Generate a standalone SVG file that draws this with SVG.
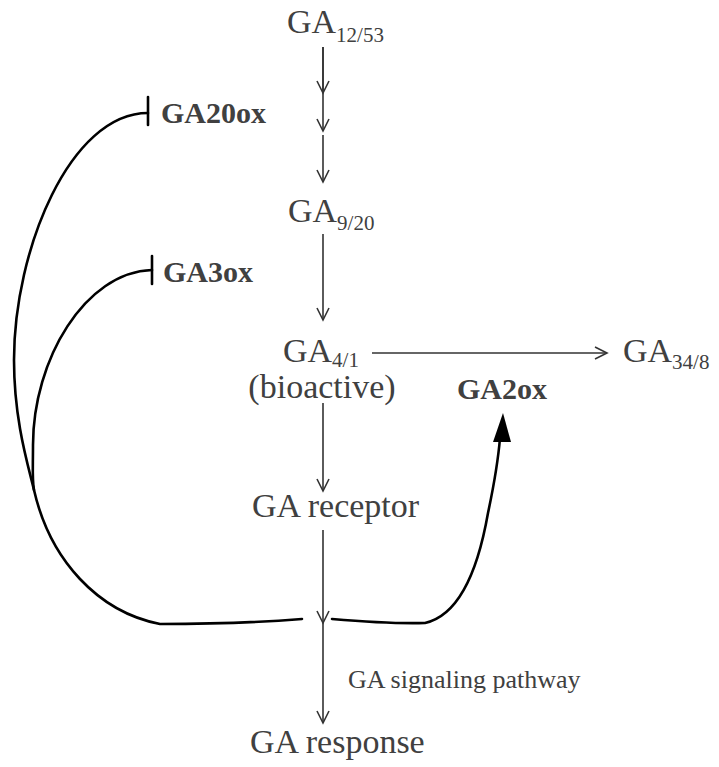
<svg xmlns="http://www.w3.org/2000/svg" width="719" height="767" viewBox="0 0 719 767">
<style>
text{font-family:"Liberation Serif","Times New Roman",serif;fill:#404040}
.m{font-size:34px}
.s{font-size:21px}
.b{font-size:30px;font-weight:bold}
.p{font-size:26px}
.ln{stroke:#333;stroke-width:1.6;fill:none}
.cv{stroke:#000;stroke-width:2.6;fill:none;stroke-linecap:round}
</style>
<defs>
<marker id="v" viewBox="-14 -8 16 16" markerWidth="16" markerHeight="16" refX="0" refY="0" orient="auto" markerUnits="userSpaceOnUse">
<path d="M-12,-6 L0,0 L-12,6" fill="none" stroke="#333" stroke-width="1.6"/>
</marker>
</defs>
<g id="connectors">
<path class="ln" d="M323,47 V131" marker-end="url(#v)"/>
<path class="ln" d="M323,47 V93" marker-end="url(#v)"/>
<path class="ln" d="M323,135 V182" marker-end="url(#v)"/>
<path class="ln" d="M323,234 V320" marker-end="url(#v)"/>
<path class="ln" d="M323,403 V491" marker-end="url(#v)"/>
<path class="ln" d="M323,530 V623" marker-end="url(#v)"/>
<path class="ln" d="M323,623 V723" marker-end="url(#v)"/>
<path class="ln" d="M372,353 H607" marker-end="url(#v)"/>
<path class="cv" d="M148,113 C70,113 14,250 14,360 C14,420 28,465 34,490 C50,560 98,612 160,624 Q240,624 302,619"/>
<path class="cv" d="M152,270 C85,272 33,360 33,445 C33,468 32,480 34,490"/>
<path class="cv" d="M148,97 V125"/>
<path class="cv" d="M152,256 V284"/>
<path class="cv" d="M332,619 Q390,624 425,623 C460,615 478,570 488,513 C495,480 498,462 500,438"/>
<polygon points="503,413 493,442 511,442" fill="#000"/>
</g>
<g id="ga12">
<text class="m" x="287" y="33">GA<tspan class="s" dy="9">12/53</tspan></text>
</g>
<g id="ga9">
<text class="m" x="288" y="222">GA<tspan class="s" dy="8">9/20</tspan></text>
</g>
<g id="ga4">
<text class="m" x="283" y="362">GA<tspan class="s" dy="5">4/1</tspan></text>
<text class="m" x="322" y="398" text-anchor="middle">(bioactive)</text>
</g>
<g id="ga34">
<text class="m" x="623" y="362">GA<tspan class="s" dy="7">34/8</tspan></text>
</g>
<g id="receptor">
<text class="m" x="252" y="517">GA receptor</text>
</g>
<g id="response">
<text class="m" x="250" y="753">GA response</text>
</g>
<g id="pathway">
<text class="p" x="348" y="688">GA signaling pathway</text>
</g>
<g id="ga20ox">
<text class="b" x="161" y="123">GA20ox</text>
</g>
<g id="ga3ox">
<text class="b" x="163" y="282">GA3ox</text>
</g>
<g id="ga2ox">
<text class="b" x="457" y="399">GA2ox</text>
</g>
</svg>
